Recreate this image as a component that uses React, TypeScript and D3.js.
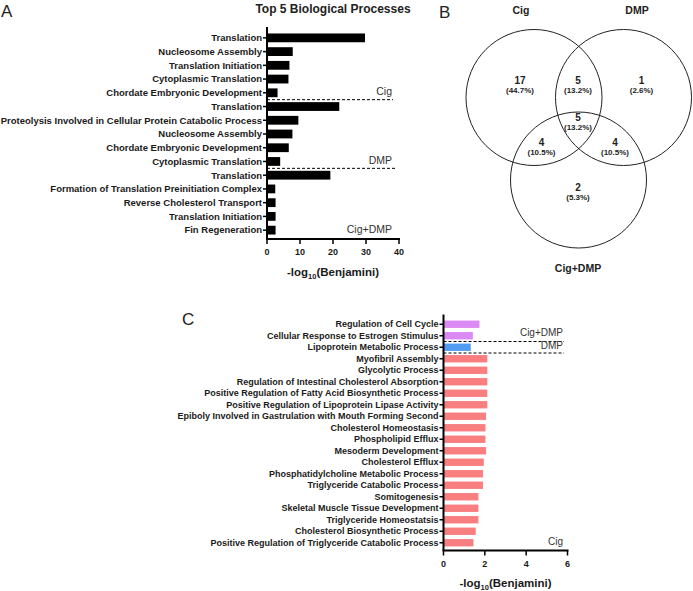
import React from "react";
import { scaleLinear, scaleBand } from "d3";

// panel A: top 5 biological processes per group
const groupsA = ["Cig", "DMP", "Cig+DMP"];
const termsA = [
  "Translation",
  "Nucleosome Assembly",
  "Translation Initiation",
  "Cytoplasmic Translation",
  "Chordate Embryonic Development",
  "Translation",
  "Proteolysis Involved in Cellular Protein Catabolic Process",
  "Nucleosome Assembly",
  "Chordate Embryonic Development",
  "Cytoplasmic Translation",
  "Translation",
  "Formation of Translation Preinitiation Complex",
  "Reverse Cholesterol Transport",
  "Translation Initiation",
  "Fin Regeneration",
];
const valuesA = [29.7, 7.8, 6.8, 6.5, 3.2, 21.9, 9.5, 7.7, 6.6, 4.0, 19.2, 2.5, 2.6, 2.6, 2.6];
const ticksA = [0, 10, 20, 30, 40];

// panel B: venn counts
const vennSets = ["Cig", "DMP", "Cig+DMP"];
const vennCounts = [
  { region: "Cig", n: 17, pct: "44.7%" },
  { region: "Cig&DMP", n: 5, pct: "13.2%" },
  { region: "DMP", n: 1, pct: "2.6%" },
  { region: "all", n: 5, pct: "13.2%" },
  { region: "Cig&Cig+DMP", n: 4, pct: "10.5%" },
  { region: "DMP&Cig+DMP", n: 4, pct: "10.5%" },
  { region: "Cig+DMP", n: 2, pct: "5.3%" },
];

// panel C: unique processes
const termsC = [
  "Regulation of Cell Cycle",
  "Cellular Response to Estrogen Stimulus",
  "Lipoprotein Metabolic Process",
  "Myofibril Assembly",
  "Glycolytic Process",
  "Regulation of Intestinal Cholesterol Absorption",
  "Positive Regulation of Fatty Acid Biosynthetic Process",
  "Positive Regulation of Lipoprotein Lipase Activity",
  "Epiboly Involved in Gastrulation with Mouth Forming Second",
  "Cholesterol Homeostasis",
  "Phospholipid Efflux",
  "Mesoderm Development",
  "Cholesterol Efflux",
  "Phosphatidylcholine Metabolic Process",
  "Triglyceride Catabolic Process",
  "Somitogenesis",
  "Skeletal Muscle Tissue Development",
  "Triglyceride Homeostatsis",
  "Cholesterol Biosynthetic Process",
  "Positive Regulation of Triglyceride Catabolic Process",
];
const valuesC = [1.74, 1.42, 1.32, 2.12, 2.12, 2.12, 2.12, 2.12, 2.06, 2.03, 2.03, 2.06, 1.95, 1.91, 1.91, 1.69, 1.69, 1.69, 1.56, 1.45];
const groupC = ["Cig+DMP", "Cig+DMP", "DMP", ...Array(17).fill("Cig")];
const groupsC = ["Cig+DMP", "DMP", "Cig"];
const ticksC = [0, 2, 4, 6];

const colorC: Record<string, string> = { "Cig+DMP": "#dc8af3", DMP: "#4f9cf2", Cig: "#f87e80" };
const font = "'Liberation Sans', Arial, sans-serif";

function XLabel({ x, y }: { x: number; y: number }) {
  return (
    <text x={x} y={y} textAnchor="middle" fontSize={11.5} fontWeight="bold" fill="#1a1a1a">
      -log<tspan fontSize={7.5} dy={2.5}>10</tspan>
      <tspan dy={-2.5}>(Benjamini)</tspan>
    </text>
  );
}

function BarPanel(props: {
  terms: string[];
  values: number[];
  colors: string[];
  ticks: number[];
  x0: number;
  x1: number;
  yTop: number;
  yBot: number;
  axisY: number;
  splits: { after: number; end: number }[];
  groupLabels: { label: string; row: number; dy: number }[];
  labelRight: number;
  labelSize: number;
  groupSize: number;
  xLabelY: number;
}) {
  const { terms, values, colors, ticks } = props;
  const x = scaleLinear().domain([0, ticks[ticks.length - 1]]).range([props.x0, props.x1]);
  const idx = terms.map((_, i) => String(i));
  const y = scaleBand().domain(idx).range([props.yTop, props.yBot]).paddingInner(0.36).paddingOuter(0.18);
  const step = y.step();
  const top = props.yTop;
  return (
    <g>
      {terms.map((t, i) => (
        <g key={i}>
          <rect
            x={x(0)}
            y={y(String(i))}
            width={x(values[i]) - x(0)}
            height={y.bandwidth()}
            fill={colors[i]}
          />
          <line
            x1={x(0) - 4}
            x2={x(0)}
            y1={y(String(i))! + y.bandwidth() / 2}
            y2={y(String(i))! + y.bandwidth() / 2}
            stroke="#000"
            strokeWidth={1.5}
          />
          <text
            x={x(0) - 5}
            y={y(String(i))! + y.bandwidth() / 2}
            dy="0.35em"
            textAnchor="end"
            fontSize={props.labelSize}
            fontWeight="bold"
            fill="#1a1a1a"
          >
            {t}
          </text>
        </g>
      ))}
      {props.splits.map((s, k) => {
        const yy = y(String(s.after))! + y.bandwidth() + (step - y.bandwidth()) / 2;
        return (
          <line key={k} x1={x(0)} x2={s.end} y1={yy} y2={yy} stroke="#000" strokeWidth={1} strokeDasharray="3,2" />
        );
      })}
      {props.groupLabels.map((g, k) => (
        <text
          key={k}
          x={props.labelRight}
          y={y(String(g.row))! + y.bandwidth() / 2 + g.dy}
          dy="0.35em"
          textAnchor="end"
          fontSize={props.groupSize}
          fill="#333"
        >
          {g.label}
        </text>
      ))}
      <line x1={x(0)} x2={x(0)} y1={top - 4} y2={props.axisY} stroke="#000" strokeWidth={2} />
      <line x1={x(0) - 1} x2={props.x1 + 1} y1={props.axisY} y2={props.axisY} stroke="#000" strokeWidth={2} />
      {ticks.map((t) => (
        <g key={t}>
          <line x1={x(t)} x2={x(t)} y1={props.axisY} y2={props.axisY + 5} stroke="#000" strokeWidth={1.5} />
          <text x={x(t)} y={props.axisY + 16} textAnchor="middle" fontSize={9} fontWeight="bold" fill="#1a1a1a">
            {t}
          </text>
        </g>
      ))}
      <XLabel x={(props.x0 + props.x1) / 2} y={props.xLabelY} />
    </g>
  );
}

function Venn() {
  const r = 68;
  const centers = [
    { cx: 534, cy: 97.5 },
    { cx: 623.5, cy: 97.5 },
    { cx: 578.5, cy: 180 },
  ];
  const pos: Record<string, [number, number]> = {
    Cig: [520, 81],
    "Cig&DMP": [578, 81],
    DMP: [641.5, 81],
    all: [578, 118],
    "Cig&Cig+DMP": [541.5, 143],
    "DMP&Cig+DMP": [615, 143],
    "Cig+DMP": [578, 188],
  };
  const titles: [number, number][] = [
    [521, 14],
    [637, 14],
    [578, 272],
  ];
  return (
    <g>
      {centers.map((c, i) => (
        <circle key={i} cx={c.cx} cy={c.cy} r={r} fill="none" stroke="#222" strokeWidth={1} />
      ))}
      {vennSets.map((s, i) => (
        <text key={s} x={titles[i][0]} y={titles[i][1]} textAnchor="middle" fontSize={10.5} fontWeight="bold" fill="#222">
          {s}
        </text>
      ))}
      {vennCounts.map((v) => (
        <g key={v.region}>
          <text x={pos[v.region][0]} y={pos[v.region][1] + 3} textAnchor="middle" fontSize={10} fontWeight="bold" fill="#222">
            {v.n}
          </text>
          <text x={pos[v.region][0]} y={pos[v.region][1] + 12} textAnchor="middle" fontSize={8} fontWeight="bold" fill="#222">
            ({v.pct})
          </text>
        </g>
      ))}
    </g>
  );
}

export default function App() {
  const colorsA = termsA.map(() => "#000");
  const colorsC = groupC.map((g) => colorC[g]);
  return (
    <div style={{ position: "absolute", left: 0, top: 0 }}>
      <svg width={693} height={591} style={{ display: "block", fontFamily: font, background: "#fff" }}>
        <text x={1} y={17} fontSize={17} fill="#222">A</text>
        <text x={439} y={18} fontSize={17} fill="#222">B</text>
        <text x={182} y={325} fontSize={17} fill="#222">C</text>
        <text x={333} y={13} textAnchor="middle" fontSize={12} fontWeight="bold" fill="#222">
          Top 5 Biological Processes
        </text>
        <BarPanel
          terms={termsA}
          values={valuesA}
          colors={colorsA}
          ticks={ticksA}
          x0={267}
          x1={399}
          yTop={31}
          yBot={237}
          axisY={239}
          splits={[
            { after: 4, end: 393 },
            { after: 9, end: 396 },
          ]}
          groupLabels={[
            { label: groupsA[0], row: 4, dy: -1.5 },
            { label: groupsA[1], row: 9, dy: -1.5 },
            { label: groupsA[2], row: 14, dy: -1 },
          ]}
          labelRight={392}
          labelSize={9.5}
          groupSize={10.5}
          xLabelY={276}
        />
        <Venn />
        <BarPanel
          terms={termsC}
          values={valuesC}
          colors={colorsC}
          ticks={ticksC}
          x0={443.5}
          x1={567.5}
          yTop={318.5}
          yBot={548.5}
          axisY={550.5}
          splits={[
            { after: 1, end: 564 },
            { after: 2, end: 564 },
          ]}
          groupLabels={[
            { label: groupsC[0], row: 1, dy: -3 },
            { label: groupsC[1], row: 2, dy: -1.5 },
            { label: groupsC[2], row: 19, dy: -1 },
          ]}
          labelRight={563}
          labelSize={9}
          groupSize={10}
          xLabelY={587}
        />
      </svg>
    </div>
  );
}
